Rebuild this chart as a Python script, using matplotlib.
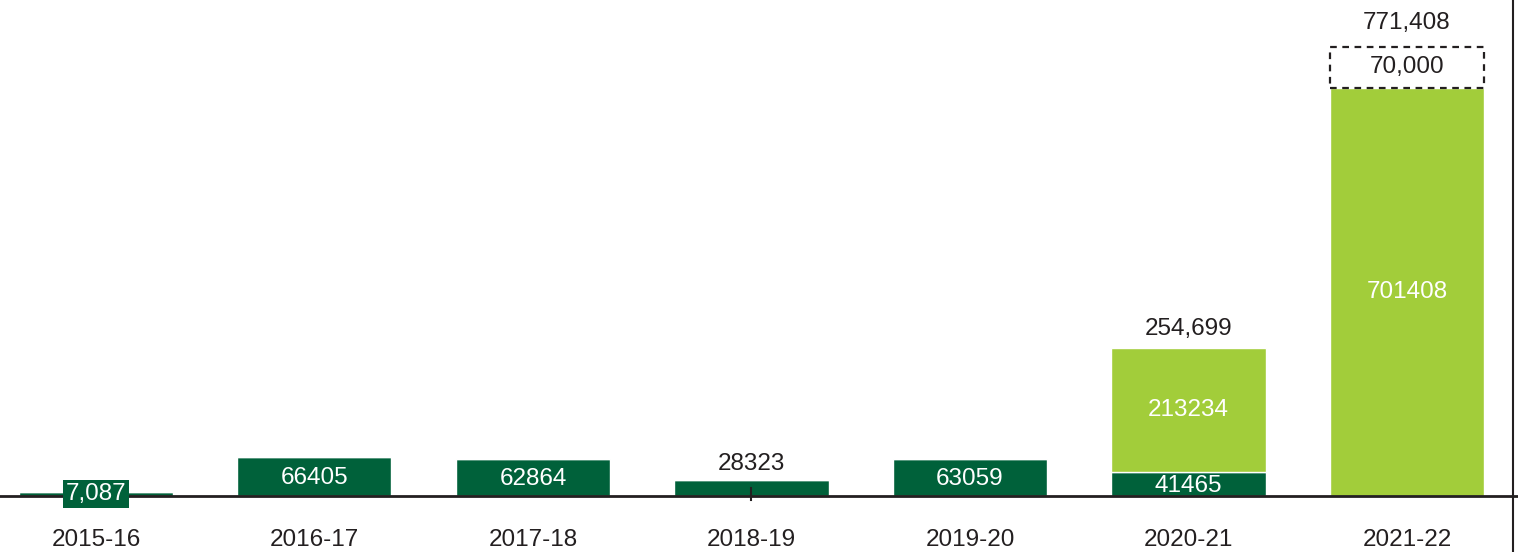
import matplotlib.pyplot as plt
from matplotlib.patches import Rectangle

plt.rcParams['font.family'] = ['Liberation Sans', 'DejaVu Sans']

years = ['2015-16', '2016-17', '2017-18', '2018-19', '2019-20', '2020-21', '2021-22']
dark = [7087, 66405, 62864, 28323, 63059, 41465, 0]
light = [0, 0, 0, 0, 0, 213234, 701408]
dashed = [0, 0, 0, 0, 0, 0, 70000]
totals = {5: '254,699', 6: '771,408'}

DARK = '#00613A'
LIGHT = '#A2CD3A'
TXT = '#231F20'

fig = plt.figure(figsize=(15.18, 5.52), dpi=100)
ax = fig.add_axes([0, 0, 1513 / 1518, 1])
x = list(range(len(years)))
w = 0.705

ax.bar(x, dark, width=w, color=DARK, edgecolor='white', linewidth=1)
ax.bar(x, light, width=w, bottom=dark, color=LIGHT, edgecolor='white', linewidth=1)

# dashed outline segment on top of the last bar
for i, d in enumerate(dashed):
    if d:
        base = dark[i] + light[i]
        ax.add_patch(Rectangle((i - w / 2, base), w, d, fill=False, edgecolor=TXT,
                               linestyle=(0, (3, 2.5)), linewidth=1.6))
        ax.text(i, base + d / 2, f'{d:,}', ha='center', va='center', fontsize=17.5, color=TXT)

fs = 17.5
for i, v in enumerate(dark):
    if not v:
        continue
    if i == 0:
        ax.text(i, v / 2, f'{v:,}', ha='center', va='center', fontsize=fs, color='white',
                bbox=dict(boxstyle='square,pad=0.12', fc=DARK, ec='none'))
    elif i == 3:
        ax.text(i, v + 8000, str(v), ha='center', va='bottom', fontsize=fs, color=TXT)
    else:
        ax.text(i, v / 2 - 3000, str(v), ha='center', va='center', fontsize=fs, color='white')

for i, v in enumerate(light):
    if v:
        ax.text(i, dark[i] + v / 2, str(v), ha='center', va='center', fontsize=fs, color='white')

for i, t in totals.items():
    top = dark[i] + light[i] + dashed[i]
    pad = 14000 if i == 5 else 22000
    ax.text(i, top + pad, t, ha='center', va='bottom', fontsize=fs, color=TXT)

ax.plot([-0.44, 6.52], [0, 0], color=TXT, linewidth=2, clip_on=False)
ax.plot([3, 3], [-7000, 14000], color=TXT, linewidth=1.5)

for i, y in enumerate(years):
    ax.text(i, -76000, y, ha='center', va='center', fontsize=fs, color=TXT)

ax.set_xlim(-0.439, 6.485)
ax.set_ylim(-96200, 852000)
for s in ['top', 'left', 'bottom']:
    ax.spines[s].set_visible(False)
ax.spines['right'].set_color(TXT)
ax.spines['right'].set_linewidth(1.5)
ax.set_xticks([])
ax.set_yticks([])

fig.savefig('out.png', dpi=100)
